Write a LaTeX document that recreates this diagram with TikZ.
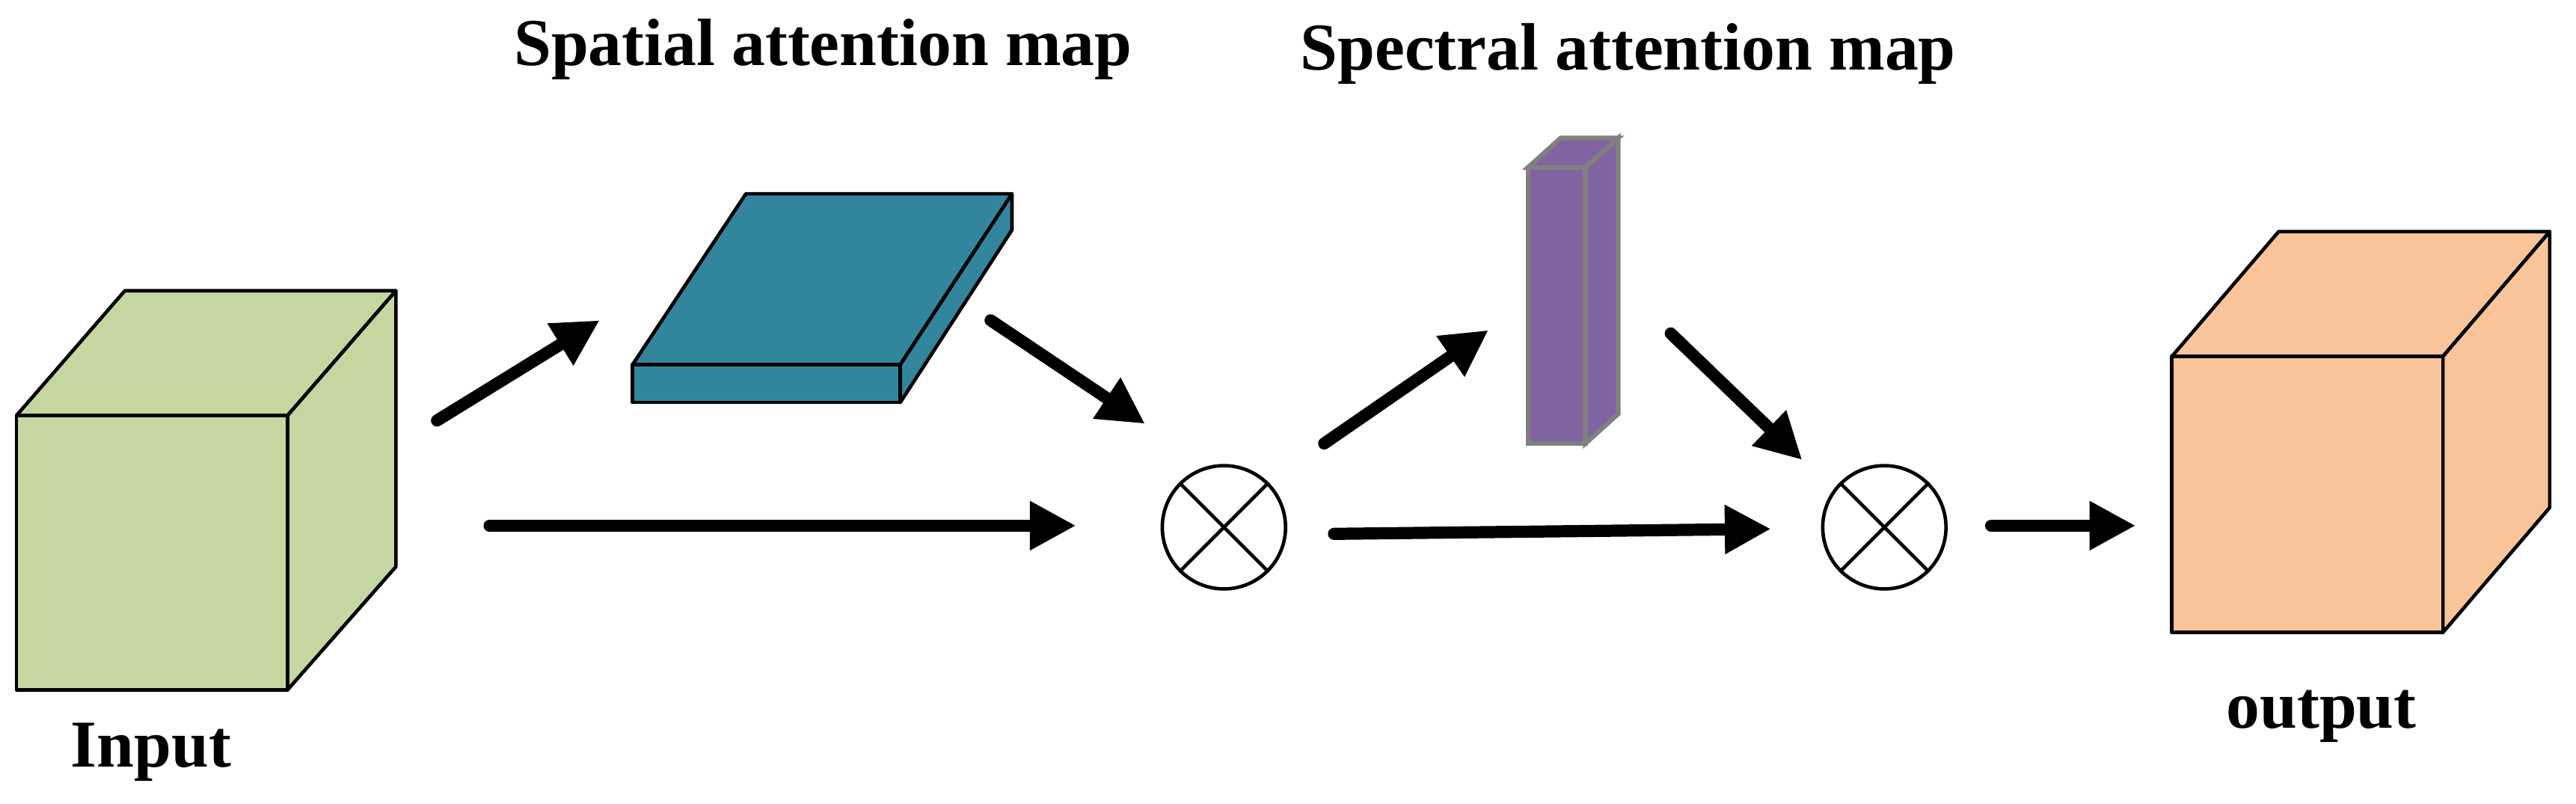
\documentclass[tikz,border=0pt]{standalone}
\usepackage{fontspec}
\setmainfont{Liberation Serif}
\usetikzlibrary{arrows.meta,positioning,calc}
\definecolor{inputgreen}{HTML}{C4D7A0}
\definecolor{spatialblue}{HTML}{31859C}
\definecolor{spectralpurple}{HTML}{8064A2}
\definecolor{outputorange}{HTML}{F9C499}
\tikzset{
  flow/.style={line width=2.1pt, line cap=round, -{Triangle[length=8pt,width=8pt]}},
  face/.style={draw=black, line width=0.6pt, line join=round},
  mult/.style={circle, draw=black, line width=0.6pt, minimum size=0.75cm, inner sep=0pt},
  lbl/.style={font=\fontsize{11.6}{14}\selectfont\bfseries}
}
\begin{document}
\begin{tikzpicture}[x=0.01cm, y=-0.01cm]
        \useasboundingbox (0,0) rectangle (1568,489);
        % input cube
        \fill[inputgreen, face] (10,253) -- (76,177) -- (241,177) -- (175,253) -- cycle;
        \fill[inputgreen, face] (175,253) -- (241,177) -- (241,345) -- (175,420) -- cycle;
        \fill[inputgreen, face] (10,253) rectangle (175,420);
        \node[lbl] (input) at (92,458) {Input};

        % spatial map
        \fill[spatialblue, face] (385,222) -- (454,118) -- (616,118) -- (548,222) -- cycle;
        \fill[spatialblue, face] (548,222) -- (616,118) -- (616,140) -- (548,245) -- cycle;
        \fill[spatialblue, face] (385,222) rectangle (548,245);
        \node[lbl] (spatial) at (501,30) {Spatial attention map};

        % spectral map
        \fill[spectralpurple, draw=gray, line width=0.8pt] (930,102) -- (950,84) -- (985,84) -- (965,102) -- cycle;
        \fill[spectralpurple, draw=gray, line width=0.8pt] (965,102) -- (985,84) -- (985,252) -- (965,270) -- cycle;
        \fill[spectralpurple, draw=gray, line width=0.8pt] (930,102) rectangle (965,270);
        \node[lbl] (spectral) at (991,33) {Spectral attention map};

        % output cube
        \fill[outputorange, face] (1322,217) -- (1387,141) -- (1552,141) -- (1487,217) -- cycle;
        \fill[outputorange, face] (1487,217) -- (1552,141) -- (1552,309) -- (1487,385) -- cycle;
        \fill[outputorange, face] (1322,217) rectangle (1487,385);
        \node[lbl] (output) at (1413,436) {output};

        % multiplications
        \node[mult] (m1) at (745,321) {};
        \node[mult] (m2) at (1147,321) {};
        \foreach \m in {m1,m2} {
            \draw[line width=0.6pt] (\m.north west) -- (\m.south east);
            \draw[line width=0.6pt] (\m.north east) -- (\m.south west);
        }

        % arrow ends
        \coordinate (a1) at (266,256);  \coordinate (b1) at (365,195);
        \coordinate (a2) at (298,320);  \coordinate (b2) at (655,320);
        \coordinate (a3) at (603,195);  \coordinate (b3) at (697,258);
        \coordinate (a4) at (806,270);  \coordinate (b4) at (906,201);
        \coordinate (a5) at (812,325);  \coordinate (b5) at (1078,322);
        \coordinate (a6) at (1017,203); \coordinate (b6) at (1097,280);
        \coordinate (a7) at (1212,320); \coordinate (b7) at (1300,320);
        \foreach \i in {1,...,7}
            \draw[flow] (a\i) -- (b\i);
\end{tikzpicture}
\end{document}
